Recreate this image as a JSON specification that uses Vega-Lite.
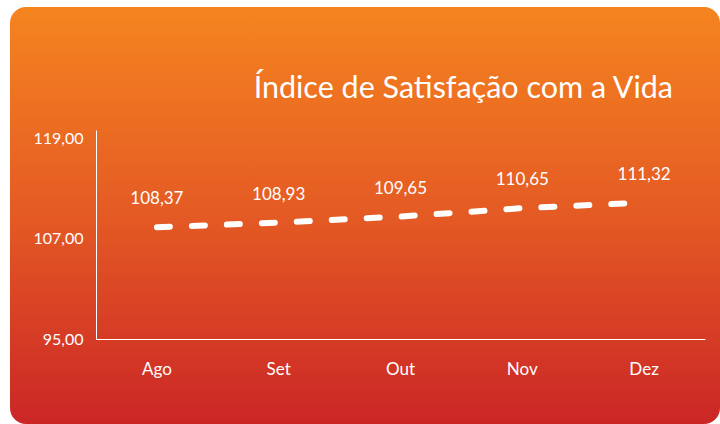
{
  "$schema": "https://vega.github.io/schema/vega-lite/v6.json",
  "width": 710,
  "height": 417,
  "autosize": {"type": "none"},
  "padding": {"left": 10, "top": 7, "right": 0, "bottom": 0},
  "background": "#FFFFFF",
  "title": {
    "text": "Índice de Satisfação com a Vida",
    "anchor": "end",
    "frame": "group",
    "orient": "top",
    "offset": -121,
    "baseline": "alphabetic",
    "dx": -47,
    "color": "#FFFFFF",
    "font": "Lato",
    "fontSize": 30.5,
    "fontWeight": "normal"
  },
  "data": {
    "values": [
      {"mes": "Ago", "indice": 108.37},
      {"mes": "Set", "indice": 108.93},
      {"mes": "Out", "indice": 109.65},
      {"mes": "Nov", "indice": 110.65},
      {"mes": "Dez", "indice": 111.32}
    ]
  },
  "encoding": {
    "x": {
      "field": "mes",
      "type": "nominal",
      "sort": null,
      "bandPosition": 0.5,
      "scale": {"type": "band", "range": [86, 695], "paddingInner": 0, "paddingOuter": 0},
      "axis": {
        "title": null,
        "orient": "bottom",
        "offset": -85,
        "domainColor": "#FFFFFF",
        "domainWidth": 1,
        "ticks": false,
        "labelPadding": 30,
        "labelBaseline": "middle",
        "labelColor": "#FFFFFF",
        "labelFontSize": 17,
        "labelFont": "Lato",
        "labelAngle": 0,
        "grid": false
      }
    },
    "y": {
      "field": "indice",
      "type": "quantitative",
      "scale": {"domain": [95, 120], "range": [332, 123], "nice": false, "zero": false},
      "axis": {
        "title": null,
        "offset": -86,
        "values": [95, 107, 119],
        "format": ".2f",
        "ticks": false,
        "labelPadding": 13,
        "labelColor": "#FFFFFF",
        "labelFontSize": 16,
        "labelFont": "Lato",
        "grid": false,
        "domainColor": "#FFFFFF",
        "domainWidth": 1
      }
    }
  },
  "layer": [
    {
      "mark": {"type": "line", "color": "#FFFFFF", "strokeWidth": 6, "strokeDash": [13, 22], "strokeCap": "round"}
    },
    {
      "mark": {"type": "text", "color": "#FFFFFF", "fontSize": 17, "dy": -28, "font": "Lato", "baseline": "middle"},
      "encoding": {"text": {"field": "indice", "type": "quantitative", "format": ".2f"}}
    }
  ],
  "config": {
    "locale": {"number": {"decimal": ",", "thousands": ".", "grouping": [3], "currency": ["R$", ""]}},
    "view": {
      "fill": {
        "gradient": "linear",
        "x1": 0, "y1": 0, "x2": 0, "y2": 1,
        "stops": [
          {"offset": 0, "color": "#F5841F"},
          {"offset": 0.5, "color": "#E45A24"},
          {"offset": 1, "color": "#CB2626"}
        ]
      },
      "cornerRadius": 16,
      "stroke": null
    }
  }
}
